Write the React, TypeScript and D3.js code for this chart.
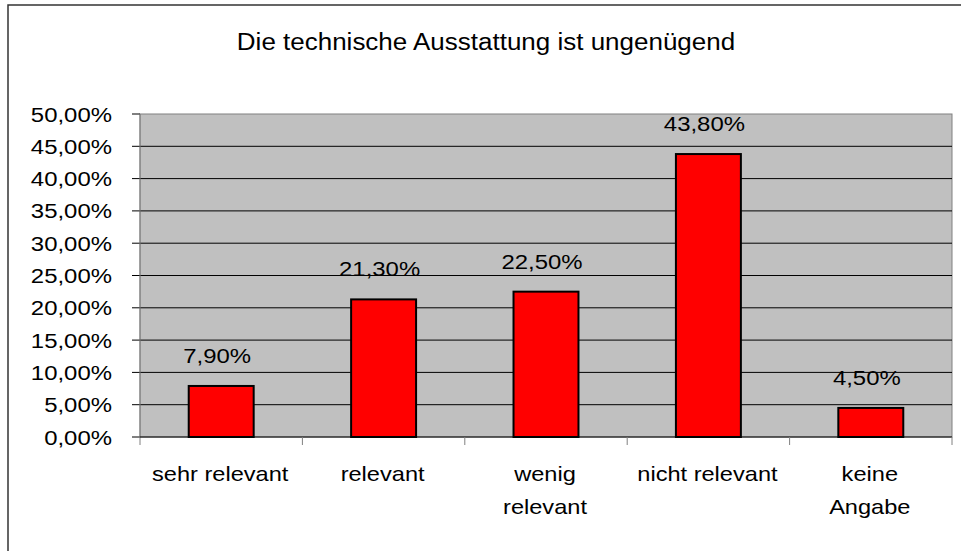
import React from "react";
import * as d3 from "d3";

const title = "Die technische Ausstattung ist ungenügend";
const categories = ["sehr relevant", "relevant", "wenig relevant", "nicht relevant", "keine Angabe"];
const categoryLines = [["sehr relevant"], ["relevant"], ["wenig", "relevant"], ["nicht relevant"], ["keine", "Angabe"]];
const values = [7.9, 21.3, 22.5, 43.8, 4.5];
const yTicks = [0, 5, 10, 15, 20, 25, 30, 35, 40, 45, 50];

const W = 961;
const H = 551;
const plot = { left: 140, top: 114, right: 952, bottom: 437 };
const FONT = "'Liberation Sans', Arial, Helvetica, sans-serif";
const SX = 1.14;
const fmt = (v: number) => v.toFixed(2).replace(".", ",") + "%";

function T(props: { x: number; y: number; size: number; anchor: string; children: React.ReactNode; sx?: number }) {
  const s = props.sx ?? SX;
  return (
    <text
      transform={`translate(${props.x},${props.y}) scale(${s},1)`}
      textAnchor={props.anchor}
      fontFamily={FONT}
      fontSize={props.size}
      fill="#000"
    >
      {props.children}
    </text>
  );
}

export default function App() {
  const x = d3.scaleBand<string>().domain(categories).range([plot.left, plot.right]).paddingInner(0).paddingOuter(0);
  const y = d3.scaleLinear().domain([0, 50]).range([plot.bottom, plot.top]);
  const bw = x.bandwidth() * 0.4;
  return (
    <svg width={W} height={H} style={{ position: "absolute", left: 0, top: 0, display: "block" }}>
      <rect x={0} y={0} width={W} height={H} fill="#fff" />
      <rect x={8} y={5} width={W + 20} height={H + 20} fill="#fff" stroke="#333" strokeWidth={1.5} />
      <T x={486} y={50} size={23} anchor="middle" sx={1.13}>{title}</T>
      <rect x={plot.left} y={plot.top} width={plot.right - plot.left} height={plot.bottom - plot.top} fill="#c0c0c0" stroke="#808080" strokeWidth={1} />
      {yTicks.map((t) => (
        <g key={t}>
          {t > 0 && t < 50 ? <line x1={plot.left} x2={plot.right} y1={y(t)} y2={y(t)} stroke="#000" strokeWidth={1} /> : null}
          <line x1={132} x2={plot.left} y1={y(t)} y2={y(t)} stroke="#000" strokeWidth={1} />
          <T x={112} y={y(t) + 7.5} size={21} anchor="end">{fmt(t)}</T>
        </g>
      ))}
      <line x1={plot.left} x2={plot.left} y1={plot.top} y2={445} stroke="#808080" strokeWidth={1} />
      <line x1={plot.left} x2={plot.right} y1={plot.bottom} y2={plot.bottom} stroke="#000" strokeWidth={1} />
      {categories.map((c) => (
        <line key={c} x1={(x(c) as number) + x.bandwidth()} x2={(x(c) as number) + x.bandwidth()} y1={plot.bottom} y2={445} stroke="#808080" strokeWidth={1} />
      ))}
      {categories.map((c, i) => {
        const cx = (x(c) as number) + x.bandwidth() / 2;
        return (
          <g key={c}>
            <rect x={cx - bw / 2} y={y(values[i])} width={bw} height={plot.bottom - y(values[i])} fill="#ff0000" stroke="#000" strokeWidth={2} />
            <T x={cx - 4} y={y(values[i]) - 23} size={21} anchor="middle">{fmt(values[i])}</T>
            {categoryLines[i].map((l, j) => (
              <T key={j} x={cx - 1} y={481 + j * 33} size={20} anchor="middle" sx={1.18}>{l}</T>
            ))}
          </g>
        );
      })}
    </svg>
  );
}
